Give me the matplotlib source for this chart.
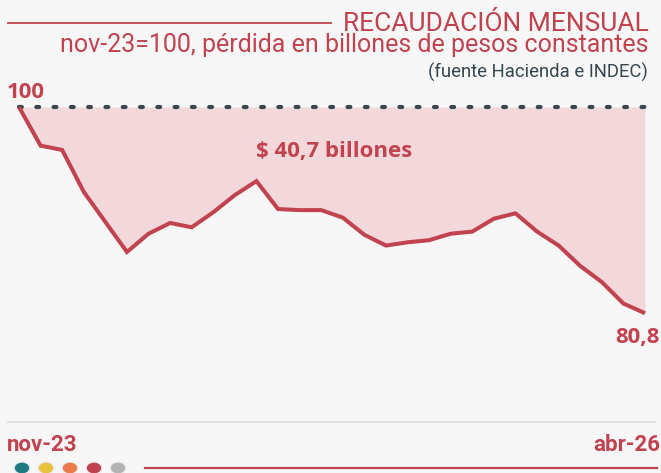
import matplotlib
matplotlib.use("Agg")
import matplotlib.pyplot as plt
from matplotlib.lines import Line2D
from matplotlib.patches import Circle
from matplotlib import font_manager

# ---- data ----
months = ["nov-23", "dic-23", "ene-24", "feb-24", "mar-24", "abr-24", "may-24", "jun-24",
          "jul-24", "ago-24", "sep-24", "oct-24", "nov-24", "dic-24", "ene-25", "feb-25",
          "mar-25", "abr-25", "may-25", "jun-25", "jul-25", "ago-25", "sep-25", "oct-25",
          "nov-25", "dic-25", "ene-26", "feb-26", "mar-26", "abr-26"]
values = [100.0, 96.4, 96.0, 92.1, 89.3, 86.5, 88.2, 89.2, 88.8, 90.2, 91.8, 93.1,
          90.5, 90.4, 90.4, 89.7, 88.1, 87.1, 87.4, 87.6, 88.2, 88.4, 89.6, 90.1,
          88.4, 87.1, 85.2, 83.7, 81.7, 80.8]
base_value = 100
first_label = "nov-23"
last_label = "abr-26"
start_text = "100"
end_text = "80,8"
loss_text = "$ 40,7 billones"
title = "RECAUDACIÓN MENSUAL"
subtitle = "nov-23=100, pérdida en billones de pesos constantes"
source = "(fuente Hacienda e INDEC)"
dot_colors = ["#1e7b82", "#e9c23b", "#e97c4a", "#c0434f", "#b3b3b3"]

# ---- style ----
avail = {f.name for f in font_manager.fontManager.ttflist}
def pick(*names):
    for n in names:
        if n in avail:
            return n
    return "DejaVu Sans"
F = pick("Roboto", "Liberation Sans", "DejaVu Sans")
FB = pick("Open Sans", "Roboto", "DejaVu Sans")

RED = "#c0434f"
FILL = "#f2d8db"
BG = "#f7f7f7"
DARK = "#36474d"

W, H = 661, 473
fig = plt.figure(figsize=(W / 100, H / 100), dpi=100)
fig.patch.set_facecolor(BG)

def fx(px):
    return px / W
def fy(py):
    return 1 - py / H

# axes geometry (pixels)
x_left, x_right = 19, 645
y_top, y_bottom = 107, 422
ppu = 10.74  # pixels per unit
y_min = base_value - (y_bottom - y_top) / ppu

ax = fig.add_axes([fx(x_left), fy(y_bottom), fx(x_right) - fx(x_left), (y_bottom - y_top) / H])
ax.set_facecolor("none")
xs = list(range(len(values)))
ax.set_xlim(0, len(values) - 1)
ax.set_ylim(y_min, base_value)
ax.axis("off")

ax.fill_between(xs, values, base_value, color=FILL, lw=0, zorder=1)
ax.plot([0, len(values) - 1], [base_value, base_value], color=DARK, lw=3,
        linestyle=(0, (0.67, 3.48)), dash_capstyle="round", clip_on=False, zorder=2)
ax.plot(xs, values, color=RED, lw=2.9, solid_joinstyle="miter", solid_capstyle="butt",
        clip_on=False, zorder=3)

# gray baseline
fig.add_artist(Line2D([fx(8), fx(655)], [fy(422), fy(422)], color="#dcdcdc", lw=1.3))

# header
fig.add_artist(Line2D([fx(8), fx(331)], [fy(23), fy(23)], color=RED, lw=1.3))
fig.text(fx(649), fy(31), title, ha="right", va="baseline", color=RED,
         fontsize=19, family=F, fontweight="normal")
fig.text(fx(648), fy(52), subtitle, ha="right", va="baseline", color=RED,
         fontsize=18, family=F)
fig.text(fx(648), fy(77.5), source, ha="right", va="baseline", color=DARK,
         fontsize=13.3, family=F)

# labels
fig.text(fx(7), fy(98), start_text, ha="left", va="baseline", color=RED,
         fontsize=16, family=FB, fontweight="bold")
fig.text(fx(334), fy(157), loss_text, ha="center", va="baseline", color=RED,
         fontsize=16, family=FB, fontweight="bold")
fig.text(fx(660), fy(343), end_text, ha="right", va="baseline", color=RED,
         fontsize=16, family=FB, fontweight="bold")
fig.text(fx(7), fy(451), first_label, ha="left", va="baseline", color=RED,
         fontsize=16, family=F, fontweight="bold")
fig.text(fx(660), fy(451), last_label, ha="right", va="baseline", color=RED,
         fontsize=16, family=F, fontweight="bold")

# footer dots and line
for i, c in enumerate(dot_colors):
    cx = 22 + i * 24
    fig.add_artist(Circle((fx(cx), fy(468)), radius=8.5 / W, color="#eeeef3",
                          transform=fig.transFigure))
    fig.add_artist(Circle((fx(cx), fy(468)), radius=6.5 / W, color=c,
                          transform=fig.transFigure))
fig.add_artist(Line2D([fx(145), fx(657)], [fy(468), fy(468)], color=RED, lw=1.6))

fig.savefig("out.png", dpi=100, facecolor=BG)
